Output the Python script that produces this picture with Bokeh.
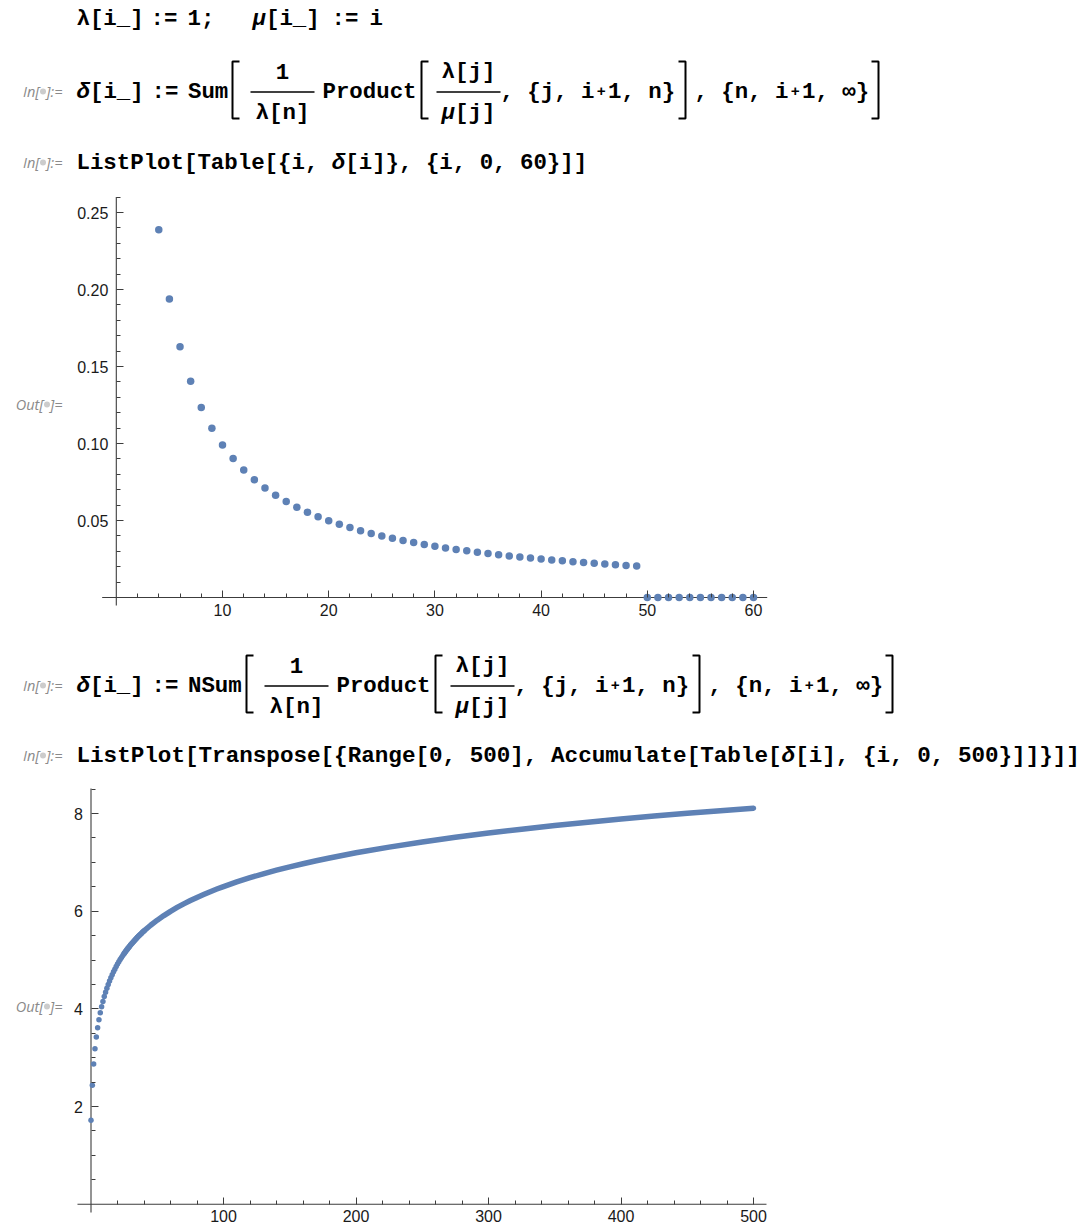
from bokeh.plotting import figure
from bokeh.layouts import column, row
from bokeh.models import Range1d, FixedTicker, NumeralTickFormatter
from bokeh.core.properties import value
from bokeh.embed import file_html
from bokeh.resources import INLINE

# ---------------- data ----------------
plot1_i = list(range(4, 61))
plot1_delta = [0.2388, 0.1938, 0.1629, 0.1404, 0.1233, 0.1099, 0.0991, 0.0902,
               0.0828, 0.0765, 0.0711, 0.0664, 0.0623, 0.0586, 0.0554, 0.0525,
               0.0499, 0.0475, 0.0454, 0.0434, 0.0416, 0.0399, 0.0384, 0.0370,
               0.0357, 0.0344, 0.0333, 0.0322, 0.0312, 0.0303, 0.0294, 0.0285,
               0.0277, 0.0270, 0.0263, 0.0256, 0.0250, 0.0244, 0.0238, 0.0232,
               0.0227, 0.0222, 0.0217, 0.0213, 0.0208, 0.0204,
               0, 0, 0, 0, 0, 0, 0, 0, 0, 0, 0]
plot1_x_ticks = [10, 20, 30, 40, 50, 60]
plot1_x_minor = [2, 4, 6, 8, 12, 14, 16, 18, 22, 24, 26, 28, 32, 34, 36, 38,
                 42, 44, 46, 48, 52, 54, 56, 58]
plot1_y_ticks = [0.05, 0.10, 0.15, 0.20, 0.25]
plot1_y_minor = [0.01, 0.02, 0.03, 0.04, 0.06, 0.07, 0.08, 0.09, 0.11, 0.12,
                 0.13, 0.14, 0.16, 0.17, 0.18, 0.19, 0.21, 0.22, 0.23, 0.24, 0.26]

plot2_i = list(range(0, 41))
plot2_acc = [1.718, 2.437, 2.873, 3.183, 3.422, 3.615, 3.778, 3.919, 4.042, 4.152,
             4.251, 4.341, 4.424, 4.500, 4.572, 4.638, 4.700, 4.759, 4.814, 4.867,
             4.917, 4.964, 5.010, 5.053, 5.095, 5.135, 5.173, 5.210, 5.246, 5.280,
             5.313, 5.346, 5.377, 5.407, 5.436, 5.465, 5.493, 5.520, 5.546, 5.572,
             5.597]
plot2_band_i = [25, 30, 35, 40, 45, 50, 55, 60, 65, 70, 75, 80, 85, 90, 95, 100,
                110, 120, 130, 140, 150, 160, 170, 180, 200, 225, 250, 275, 300,
                325, 350, 375, 400, 425, 450, 475, 500]
plot2_band_acc = [5.135, 5.313, 5.465, 5.597, 5.713, 5.817, 5.911, 5.998, 6.077,
                  6.151, 6.219, 6.283, 6.343, 6.400, 6.454, 6.505, 6.600, 6.687,
                  6.766, 6.840, 6.909, 6.973, 7.034, 7.091, 7.196, 7.313, 7.418,
                  7.514, 7.600, 7.680, 7.754, 7.823, 7.888, 7.948, 8.005, 8.059,
                  8.111]
plot2_x_ticks = [100, 200, 300, 400, 500]
plot2_x_minor = [20, 40, 60, 80, 120, 140, 160, 180, 220, 240, 260, 280,
                 320, 340, 360, 380, 420, 440, 460, 480]
plot2_y_ticks = [2, 4, 6, 8]
plot2_y_minor = [0.5, 1, 1.5, 2.5, 3, 3.5, 4.5, 5, 5.5, 6.5, 7, 7.5, 8.5]

# ---------------- style ----------------
BLUE = "#5E81B5"
AX = "#3c3c3c"
MONO = "Liberation Mono"
FS = 22.4
LABEL_GRAY = "#8a8a8a"
DOT_GRAY = "#cccccc"
LABEL_FONT = "Open Sans"
LABEL_FS = "14.5px"
PAGE_W = 1090


def blank(width, height, x0, x1, y_top, y_bottom):
    f = figure(width=width, height=height, x_range=Range1d(x0, x1),
               y_range=Range1d(y_bottom, y_top), output_backend="svg",
               toolbar_location=None, x_axis_type=None, y_axis_type=None,
               min_border=0, outline_line_color=None)
    f.background_fill_color = "white"
    f.border_fill_color = "white"
    return f


def code(f, x, y, s, fs=FS):
    pitch = fs * 0.6
    runs = []
    for k, ch in enumerate(s):
        kind = "it" if ch in "δμ" else ("plus" if ch == "+" else "b")
        if runs and runs[-1][2] == kind and kind != "plus":
            runs[-1][1] += ch
        else:
            runs.append([k, ch, kind])
    for start, txt, kind in runs:
        if kind == "plus":
            f.text(x=[x + start * pitch + pitch / 2], y=[y - 1], text=[txt],
                   text_font=value(MONO), text_font_style="bold",
                   text_font_size="15px", text_baseline="middle",
                   text_align="center", text_color="black")
        else:
            f.text(x=[x + start * pitch], y=[y], text=[txt],
                   text_font=value(MONO),
                   text_font_style="bold italic" if kind == "it" else "bold",
                   text_font_size=f"{fs}px", text_baseline="middle",
                   text_align="left", text_color="black")


def code_center(f, xc, y, s):
    code(f, xc - len(s) * FS * 0.6 / 2, y, s)


def bracket(f, x, top, bot, side):
    w = 7
    if side == "l":
        xs, ys = [x + w, x, x, x + w], [top, top, bot, bot]
    else:
        xs, ys = [x, x + w, x + w, x], [top, top, bot, bot]
    f.line(xs, ys, line_color="black", line_width=2)


def frac(f, xc, half, C, num, den):
    f.segment(x0=[xc - half], y0=[C + 0.5], x1=[xc + half], y1=[C + 0.5],
              line_color="black", line_width=1.6)
    code_center(f, xc, C - 20, num)
    code_center(f, xc, C + 21, den)


def in_label(f, C):
    f.text(x=[39], y=[C], text=["In["], text_font=value(LABEL_FONT),
           text_font_style="italic", text_font_size=LABEL_FS,
           text_baseline="middle", text_align="right", text_color=LABEL_GRAY)
    f.scatter(x=[42.5], y=[C], size=6, fill_color=DOT_GRAY, line_color=None)
    f.text(x=[62], y=[C], text=["]:="], text_font=value(LABEL_FONT),
           text_font_style="italic", text_font_size=LABEL_FS,
           text_baseline="middle", text_align="right", text_color=LABEL_GRAY)


def sum_line(f, C, head, dx):
    in_label(f, C)
    code(f, 76, C, "δ[i_]")
    code(f, 151, C, ":=")
    code(f, 187.5, C, head)
    bracket(f, 232 + dx, C - 30, C + 27, "l")
    frac(f, 282 + dx, 32, C, "1", "λ[n]")
    code(f, 322 + dx, C, "Product")
    bracket(f, 421 + dx, C - 30, C + 27, "l")
    frac(f, 468 + dx, 32, C, "λ[j]", "μ[j]")
    code(f, 500 + dx, C, ", {j, i+1, n}")
    bracket(f, 678 + dx, C - 30, C + 27, "r")
    code(f, 694 + dx, C, ", {n, i+1, ∞}")
    bracket(f, 871 + dx, C - 30, C + 27, "r")


# ---------------- header 1 (page y 0..190) ----------------
h1 = blank(PAGE_W, 190, 0, PAGE_W, 0, 190)
code(h1, 76, 18, "λ[i_]")
code(h1, 150, 18, ":=")
code(h1, 187, 18, "1;")
code(h1, 252, 18, "μ[i_]")
code(h1, 331, 18, ":=")
code(h1, 369, 18, "i")
sum_line(h1, 91, "Sum", 0)
in_label(h1, 162)
code(h1, 76, 162, "ListPlot[Table[{i, δ[i]}, {i, 0, 60}]]")

# ---------------- header 2 (page y 632..780) ----------------
h2 = blank(PAGE_W, 148, 0, PAGE_W, 632, 780)
sum_line(h2, 685, "NSum", 14)
in_label(h2, 755)
code(h2, 76, 755, "ListPlot[Transpose[{Range[0, 500], Accumulate[Table[δ[i], {i, 0, 500}]]}]]",
     fs=22.6)


def make_plot(width, height, px0, py0, X0, SX, Y0, SY):
    xr = Range1d((px0 - X0) / SX, (px0 + width - X0) / SX)
    yr = Range1d((Y0 - (py0 + height)) / SY, (Y0 - py0) / SY)
    p = figure(width=width, height=height, x_range=xr, y_range=yr,
               output_backend="svg", toolbar_location=None, min_border=0)
    return p


def style_axes(p, xt, xm, yt, ym, yfmt, xext, yext):
    p.xaxis.ticker = FixedTicker(ticks=xt, minor_ticks=xm)
    p.yaxis.ticker = FixedTicker(ticks=yt, minor_ticks=ym)
    p.yaxis.formatter = NumeralTickFormatter(format=yfmt)
    p.xaxis.formatter = NumeralTickFormatter(format="0")
    p.xaxis.fixed_location = 0
    p.yaxis.fixed_location = 0
    for ax in p.axis:
        ax.axis_line_color = None
        ax.major_tick_line_color = AX
        ax.minor_tick_line_color = AX
        ax.major_tick_in = 7
        ax.major_tick_out = 0
        ax.minor_tick_in = 4
        ax.minor_tick_out = 0
        ax.major_label_text_font = "Liberation Sans"
        ax.major_label_text_font_size = "16px"
        ax.major_label_text_color = "#1a1a1a"
    p.xaxis.major_label_standoff = 6
    p.yaxis.major_label_standoff = 8
    p.xgrid.visible = False
    p.ygrid.visible = False
    p.outline_line_color = None
    p.background_fill_color = "white"
    p.border_fill_color = "white"
    # axis lines spanning the plot range, crossing at the origin
    p.segment(x0=[xext[0], 0], y0=[0, yext[0]], x1=[xext[1], 0], y1=[0, yext[1]],
              line_color=AX, line_width=1.1)


def out_fig(height, y_top, C):
    f = blank(64, height, 0, 64, y_top, y_top + height)
    f.text(x=[43], y=[C], text=["Out["], text_font=value(LABEL_FONT),
           text_font_style="italic", text_font_size=LABEL_FS,
           text_baseline="middle", text_align="right", text_color=LABEL_GRAY)
    f.scatter(x=[46.5], y=[C], size=6, fill_color=DOT_GRAY, line_color=None)
    f.text(x=[62], y=[C], text=["]="], text_font=value(LABEL_FONT),
           text_font_style="italic", text_font_size=LABEL_FS,
           text_baseline="middle", text_align="right", text_color=LABEL_GRAY)
    return f


# ---------------- plot 1 (page y 190..632) ----------------
p1 = make_plot(PAGE_W - 64, 442, 64, 190, 115.8, 10.62, 597.0, 1540.0)
style_axes(p1, plot1_x_ticks, plot1_x_minor, plot1_y_ticks, plot1_y_minor, "0.00",
           (-1.33, 61.29), (-0.0052, 0.2601))
p1.scatter(plot1_i, plot1_delta, size=7.5, fill_color=BLUE, line_color=None)
o1 = out_fig(442, 190, 404)

# ---------------- plot 2 (page y 780..1228) ----------------
p2 = make_plot(PAGE_W - 64, 448, 64, 780, 90.5, 1.325, 1203.7, 48.83)
style_axes(p2, plot2_x_ticks, plot2_x_minor, plot2_y_ticks, plot2_y_minor, "0",
           (-10.2, 509.8), (-0.17, 8.513))
p2.line(plot2_band_i, plot2_band_acc, line_width=5.5, line_color=BLUE,
        line_cap="round", line_join="round")
p2.scatter(plot2_i, plot2_acc, size=5.5, fill_color=BLUE, line_color=None)
o2 = out_fig(448, 780, 1006)

layout = column(h1, row(o1, p1), h2, row(o2, p2))
open("out.html", "w").write(file_html(layout, INLINE))
